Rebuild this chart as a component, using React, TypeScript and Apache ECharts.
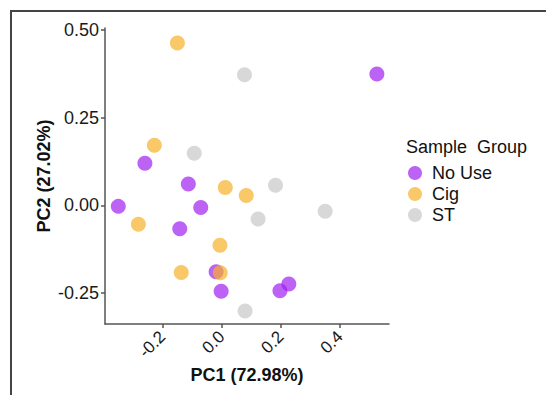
import React, { useEffect, useRef } from "react";
import * as echarts from "echarts";

const groups = ["No Use", "Cig", "ST"];
const colors = ["#A020F0", "#F7B02A", "#C8C8C8"];

const noUseX = [0.525, -0.26, -0.113, -0.35, -0.071, -0.142, -0.019, -0.002, 0.197, 0.227];
const noUseY = [0.374, 0.12, 0.061, -0.003, -0.006, -0.067, -0.189, -0.245, -0.243, -0.224];
const cigX = [-0.15, -0.228, -0.282, 0.012, 0.083, -0.006, -0.137, -0.005];
const cigY = [0.462, 0.171, -0.054, 0.051, 0.028, -0.114, -0.191, -0.192];
const stX = [0.077, -0.093, 0.182, 0.35, 0.123, 0.079];
const stY = [0.372, 0.148, 0.057, -0.017, -0.039, -0.301];

const xTicks = [-0.2, 0, 0.2, 0.4];
const yTicks = [-0.25, 0, 0.25, 0.5];

const pairs = (xs: number[], ys: number[]) => xs.map((x, i) => [x, ys[i]]);

export default function App() {
  const ref = useRef<HTMLDivElement>(null);
  useEffect(() => {
    if (!ref.current) return;
    const chart = echarts.init(ref.current, null, { renderer: "svg" });
    const font = "'Liberation Sans', Arial, sans-serif";
    const data = [pairs(noUseX, noUseY), pairs(cigX, cigY), pairs(stX, stY)];
    chart.setOption({
      animation: false,
      backgroundColor: "#ffffff",
      grid: { left: 105, right: 157, top: 28, bottom: 71 },
      xAxis: {
        type: "value",
        min: -0.395,
        max: 0.566,
        splitLine: { show: false },
        axisLine: { show: true, onZero: false, lineStyle: { color: "#555", width: 1.5 } },
        axisTick: { show: true, customValues: xTicks, length: 4, lineStyle: { color: "#555", width: 1.5 } },
        axisLabel: {
          customValues: xTicks,
          rotate: 45,
          margin: 10,
          color: "#1a1a1a",
          fontSize: 17,
          fontFamily: font,
          formatter: (v: number) => v.toFixed(1),
        },
      },
      yAxis: {
        type: "value",
        min: -0.338,
        max: 0.505,
        splitLine: { show: false },
        axisLine: { show: true, onZero: false, lineStyle: { color: "#555", width: 1.5 } },
        axisTick: { show: true, customValues: yTicks, length: 4, lineStyle: { color: "#555", width: 1.5 } },
        axisLabel: {
          customValues: yTicks,
          margin: 6,
          color: "#1a1a1a",
          fontSize: 18,
          fontFamily: font,
          formatter: (v: number) => v.toFixed(2),
        },
      },
      legend: {
        orient: "vertical",
        left: 408,
        top: 164,
        icon: "circle",
        itemWidth: 14,
        itemHeight: 14,
        itemGap: 3,
        padding: 0,
        data: groups,
        textStyle: { fontSize: 18, fontFamily: font, color: "#111", padding: [0, 0, 0, 5] },
      },
      graphic: [
        {
          type: "rect",
          shape: { x: 11, y: 11, width: 700, height: 600 },
          style: { fill: "none", stroke: "#444", lineWidth: 2 },
          silent: true,
        },
        {
          type: "text",
          x: 406,
          y: 147,
          style: {
            text: "Sample  Group",
            font: `18px ${font}`,
            fill: "#111",
            verticalAlign: "middle",
          },
        },
        {
          type: "text",
          x: 44,
          y: 176,
          rotation: Math.PI / 2,
          style: {
            text: "PC2 (27.02%)",
            font: `bold 18px ${font}`,
            fill: "#111",
            align: "center",
            verticalAlign: "middle",
          },
        },
        {
          type: "text",
          x: 247,
          y: 375,
          style: {
            text: "PC1 (72.98%)",
            font: `bold 18px ${font}`,
            fill: "#111",
            align: "center",
            verticalAlign: "middle",
          },
        },
      ],
      series: groups.map((g, i) => ({
        name: g,
        type: "scatter",
        symbol: "circle",
        symbolSize: 15,
        data: data[i],
        itemStyle: { color: colors[i], opacity: 0.7 },
      })),
    });
    return () => chart.dispose();
  }, []);
  return (
    <div
      ref={ref}
      style={{ position: "fixed", left: 0, top: 0, width: 546, height: 395 }}
    />
  );
}
